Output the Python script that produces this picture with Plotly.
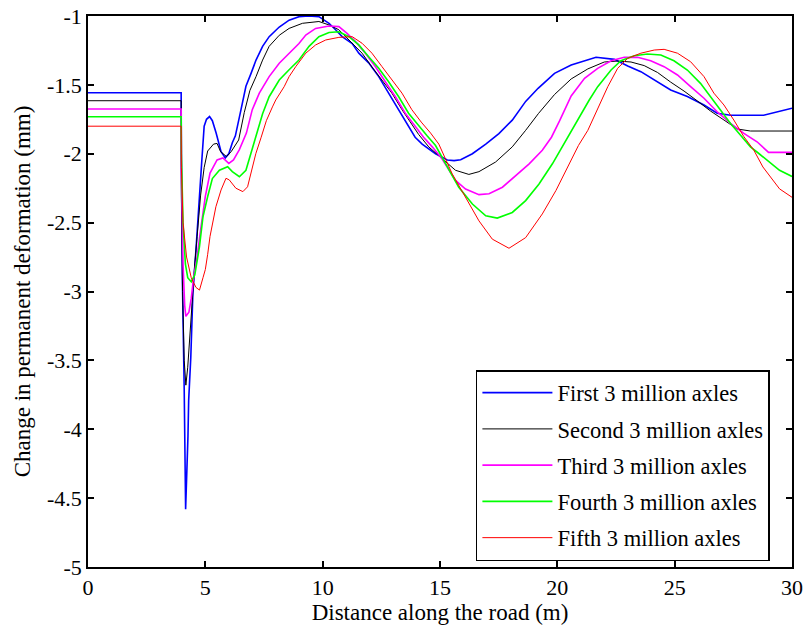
import plotly.graph_objects as go

# Distance along the road (m) and change in permanent deformation (mm)
# for five consecutive 3-million-axle load periods.
first_x = [0, 3.97, 3.98, 4.02, 4.10, 4.13, 4.16, 4.26, 4.29, 4.38, 4.47, 4.6, 4.75, 4.85,
           4.95, 5.05, 5.18, 5.3, 5.46, 5.67, 5.85, 6.0, 6.15, 6.28, 6.52, 6.73, 6.94, 7.16,
           7.44, 7.72, 8.15, 8.57, 8.99, 9.4, 9.84, 10.27, 10.55, 10.83, 11.26, 11.54, 11.96,
           12.39, 12.81, 13.24, 13.6, 13.94, 14.24, 14.81, 15.31, 15.6, 15.88, 16.38, 16.95,
           17.51, 18.08, 18.65, 19.18, 19.88, 20.59, 21.3, 21.65, 22.43, 23.0, 23.56, 24.13,
           24.83, 25.54, 26.25, 26.81, 27.38, 28.79, 29.36, 30]
first_y = [-1.557, -1.557, -2.05, -2.89, -3.71, -4.08, -4.58, -4.05, -3.79, -3.48, -3.01,
           -2.7, -2.35, -2.05, -1.8, -1.75, -1.73, -1.76, -1.85, -1.985, -2.03, -2.0, -1.92,
           -1.87, -1.68, -1.51, -1.42, -1.32, -1.22, -1.15, -1.08, -1.03, -1.005, -1.0,
           -1.005, -1.053, -1.10, -1.15, -1.20, -1.27, -1.34, -1.44, -1.56, -1.68, -1.79,
           -1.88, -1.93, -2.0, -2.045, -2.05, -2.043, -2.0, -1.93, -1.854, -1.756, -1.62,
           -1.525, -1.416, -1.356, -1.315, -1.30, -1.315, -1.363, -1.404, -1.465, -1.537,
           -1.585, -1.646, -1.706, -1.72, -1.72, -1.695, -1.67]

second_x = [0, 3.97, 3.98, 4.03, 4.10, 4.17, 4.25, 4.35, 4.45, 4.55, 4.65, 4.8, 4.95, 5.1,
            5.35, 5.5, 5.65, 5.9, 6.1, 6.42, 6.66, 6.9, 7.16, 7.44, 7.72, 8.15, 8.57, 9.14,
            9.84, 10.27, 10.69, 10.97, 11.26, 11.68, 12.1, 12.53, 12.95, 13.38, 13.8, 14.09,
            14.52, 15.1, 15.66, 16.23, 16.66, 17.37, 18.08, 18.65, 19.2, 19.88, 20.59, 21.3,
            22.0, 22.57, 23.14, 23.7, 24.27, 24.83, 25.4, 25.97, 26.53, 27.1, 27.66, 28.23, 30]
second_y = [-1.615, -1.615, -2.3, -3.0, -3.5, -3.68, -3.55, -3.3, -3.0, -2.8, -2.6, -2.3,
            -2.1, -1.98, -1.93, -1.925, -1.985, -2.02, -1.985, -1.9, -1.70, -1.54, -1.44,
            -1.32, -1.22, -1.14, -1.09, -1.053, -1.04, -1.065, -1.10, -1.15, -1.20, -1.27,
            -1.37, -1.465, -1.56, -1.68, -1.79, -1.86, -1.95, -2.04, -2.12, -2.15, -2.13,
            -2.06, -1.95, -1.83, -1.707, -1.57, -1.457, -1.384, -1.334, -1.327, -1.334, -1.36,
            -1.41, -1.48, -1.545, -1.617, -1.69, -1.755, -1.82, -1.835, -1.835]

third_x = [0, 3.97, 3.98, 4.05, 4.12, 4.17, 4.3, 4.4, 4.5, 4.65, 4.8, 5.0, 5.2, 5.5, 5.75,
           6.0, 6.2, 6.45, 6.75, 7.0, 7.3, 7.58, 7.72, 8.15, 8.57, 8.99, 9.28, 9.7, 10.27,
           10.69, 11.04, 11.4, 11.82, 12.25, 12.67, 13.1, 13.52, 13.95, 14.3, 14.67, 15.1,
           15.66, 16.09, 16.66, 17.09, 17.66, 18.23, 18.8, 19.36, 19.75, 20.1, 20.59, 21.16,
           21.72, 22.29, 22.85, 23.42, 23.98, 24.55, 25.12, 25.68, 26.25, 26.81, 27.38,
           27.95, 28.51, 29.0, 30]
third_y = [-1.675, -1.675, -2.1, -2.8, -3.1, -3.18, -3.15, -3.05, -2.9, -2.75, -2.55, -2.31,
           -2.14, -2.045, -2.03, -2.07, -2.045, -1.97, -1.85, -1.68, -1.56, -1.48, -1.44,
           -1.343, -1.27, -1.20, -1.138, -1.09, -1.073, -1.077, -1.126, -1.186, -1.27,
           -1.368, -1.477, -1.586, -1.706, -1.80, -1.88, -1.95, -2.04, -2.194, -2.256,
           -2.297, -2.29, -2.243, -2.158, -2.073, -1.975, -1.88, -1.76, -1.58, -1.452,
           -1.38, -1.325, -1.30, -1.30, -1.325, -1.368, -1.428, -1.513, -1.597, -1.695,
           -1.78, -1.852, -1.913, -1.99, -1.99]

fourth_x = [0, 3.97, 3.98, 4.05, 4.15, 4.25, 4.4, 4.55, 4.75, 4.9, 5.1, 5.3, 5.6, 5.95,
            6.15, 6.45, 6.73, 6.94, 7.1, 7.44, 7.72, 8.15, 8.57, 8.99, 9.42, 9.84, 10.27,
            10.69, 11.12, 11.54, 11.96, 12.39, 12.81, 13.24, 13.66, 14.09, 14.45, 14.81,
            15.24, 15.8, 16.38, 16.95, 17.44, 18.08, 18.65, 19.22, 19.79, 20.36, 20.93,
            21.36, 21.72, 22.29, 22.71, 23.28, 23.84, 24.41, 24.97, 25.54, 26.1, 26.53,
            26.95, 27.38, 27.8, 28.23, 28.6, 29.47, 30]
fourth_y = [-1.731, -1.731, -2.0, -2.5, -2.8, -2.9, -2.93, -2.88, -2.675, -2.457, -2.31,
            -2.18, -2.12, -2.094, -2.13, -2.167, -2.12, -2.0, -1.89, -1.71, -1.586, -1.465,
            -1.39, -1.32, -1.22, -1.15, -1.12, -1.114, -1.15, -1.21, -1.295, -1.38, -1.477,
            -1.586, -1.706, -1.80, -1.87, -1.94, -2.073, -2.243, -2.365, -2.45, -2.467,
            -2.426, -2.34, -2.219, -2.073, -1.902, -1.732, -1.61, -1.513, -1.392, -1.325,
            -1.288, -1.276, -1.283, -1.325, -1.392, -1.489, -1.586, -1.68, -1.78, -1.864,
            -1.95, -2.0, -2.12, -2.165]

fifth_x = [0, 3.97, 3.98, 4.05, 4.2, 4.4, 4.6, 4.75, 4.9, 5.0, 5.1, 5.2, 5.45, 5.67, 5.88,
           6.02, 6.3, 6.6, 6.8, 6.94, 7.15, 7.38, 7.6, 7.86, 8.0, 8.36, 8.57, 8.85, 9.28,
           9.7, 10.13, 10.69, 11.26, 11.68, 12.1, 12.53, 12.95, 13.38, 13.8, 14.2, 14.6,
           14.95, 15.52, 16.09, 16.66, 17.23, 17.94, 18.65, 19.36, 19.94, 20.5, 20.9, 21.3,
           21.7, 22.15, 22.57, 23.0, 23.56, 24.13, 24.55, 25.12, 25.68, 26.25, 26.67, 27.1,
           27.52, 27.95, 28.37, 28.76, 29.47, 30]
fifth_y = [-1.80, -1.80, -2.1, -2.5, -2.75, -2.9, -2.97, -2.99, -2.9, -2.84, -2.73, -2.6,
           -2.385, -2.263, -2.178, -2.19, -2.25, -2.275, -2.24, -2.14, -2.0, -1.88, -1.76,
           -1.66, -1.61, -1.513, -1.44, -1.368, -1.27, -1.21, -1.174, -1.155, -1.15, -1.198,
           -1.27, -1.368, -1.465, -1.56, -1.68, -1.77, -1.85, -1.93, -2.146, -2.316,
           -2.487, -2.62, -2.686, -2.609, -2.437, -2.267, -2.073, -1.94, -1.83, -1.68,
           -1.513, -1.38, -1.307, -1.27, -1.247, -1.242, -1.27, -1.332, -1.44, -1.56,
           -1.646, -1.755, -1.876, -1.973, -2.096, -2.255, -2.316]

series_names = ["First 3 million axles", "Second 3 million axles", "Third 3 million axles",
                "Fourth 3 million axles", "Fifth 3 million axles"]
series_x = [first_x, second_x, third_x, fourth_x, fifth_x]
series_y = [first_y, second_y, third_y, fourth_y, fifth_y]
colors = ["#0000ff", "#000000", "#ff00ff", "#00ff00", "#ff0000"]
widths = [1.6, 1, 1.6, 1.6, 1]

x_ticks = [0, 5, 10, 15, 20, 25, 30]
y_ticks = [-5, -4.5, -4, -3.5, -3, -2.5, -2, -1.5, -1]
y_ticktext = ["-5", "-4.5", "-4", "-3.5", "-3", "-2.5", "-2", "-1.5", "-1"]

FONT = "Liberation Serif, Times New Roman, serif"

fig = go.Figure()
for name, xs, ys, c, w in zip(series_names, series_x, series_y, colors, widths):
    fig.add_trace(go.Scatter(
        x=xs, y=ys, mode="lines", name=name, legendgroup=name,
        line=dict(color=c, width=w),
    ))

axis_common = dict(
    showline=True, linecolor="black", linewidth=1.5, mirror="ticks",
    ticks="inside", ticklen=6, tickwidth=1.5, tickcolor="black",
    showgrid=False, zeroline=False, automargin=False,
    ticklabeloverflow="allow",
    tickfont=dict(family=FONT, size=22, color="black"),
)

fig.update_layout(
    width=804, height=631,
    margin=dict(l=88, r=12, t=16, b=64),
    paper_bgcolor="white", plot_bgcolor="white",
    font=dict(family=FONT, size=22.5, color="black"),
    xaxis=dict(range=[0, 30], tickvals=x_ticks,
               title=dict(text="Distance along the road (m)",
                          font=dict(family=FONT, size=23), standoff=2),
               **axis_common),
    yaxis=dict(range=[-5, -1], tickvals=y_ticks, ticktext=y_ticktext,
               title=dict(text="Change in permanent deformation (mm)",
                          font=dict(family=FONT, size=23), standoff=10),
               **axis_common),
    legend=dict(
        x=0.551, y=0.3575, xanchor="left", yanchor="top",
        bgcolor="white", bordercolor="black", borderwidth=1.5,
        font=dict(family=FONT, size=22.5, color="black"),
        itemwidth=70, tracegroupgap=4,
    ),
)

fig.write_html("out.html")
